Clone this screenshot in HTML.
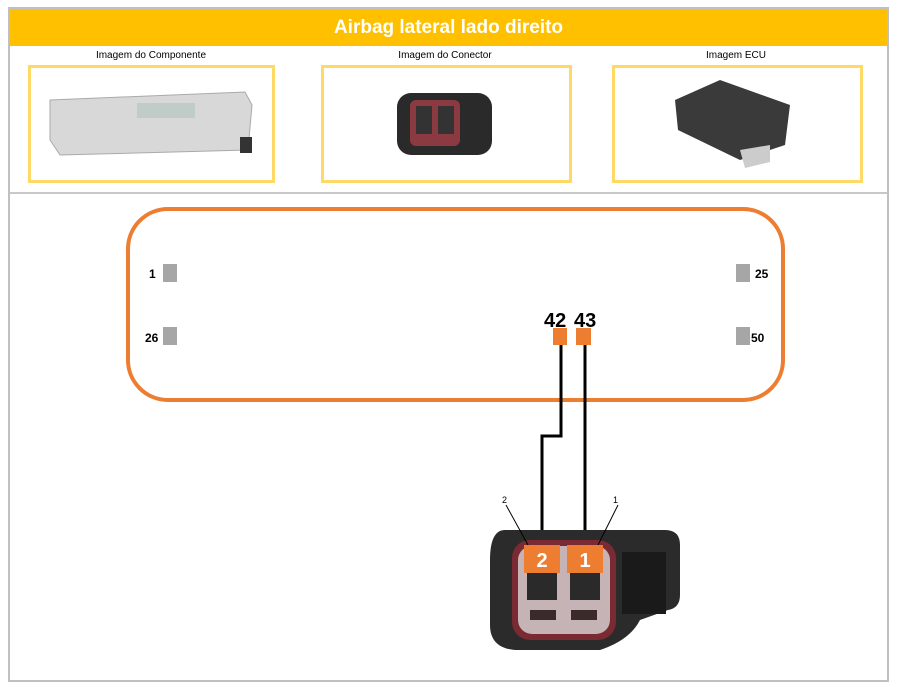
<!DOCTYPE html>
<html><head><style>
body{margin:0;background:#fff;font-family:"Liberation Sans",sans-serif;}
.wrap{position:absolute;left:8px;top:7px;width:877px;height:671px;border:2px solid #c0c0c0;}
.hdr{position:absolute;left:10px;top:9px;width:877px;height:37px;background:#FFC000;color:#fff;font-weight:bold;font-size:19px;text-align:center;line-height:37px;}
.cap{position:absolute;top:50px;font-size:10px;color:#000;text-align:center;width:250px;}
.box{position:absolute;top:65px;height:112px;border:3px solid #FFD966;background:#fff;}
.sep{position:absolute;left:10px;top:192px;width:877px;height:2px;background:#c8c8c8;}
</style></head><body>
<div class="wrap"></div>
<div class="hdr">Airbag lateral lado direito</div>
<div class="cap" style="left:26px">Imagem do Componente</div>
<div class="cap" style="left:320px">Imagem do Conector</div>
<div class="cap" style="left:611px">Imagem ECU</div>
<div class="box" style="left:28px;width:241px"></div>
<div class="box" style="left:321px;width:245px"></div>
<div class="box" style="left:612px;width:245px"></div>
<div class="sep"></div>
<svg width="897" height="687" style="position:absolute;left:0;top:0">
<!-- airbag -->
<path d="M50 100 L245 92 L252 105 L248 150 L60 155 L50 140 Z" fill="#d8d8d8" stroke="#aaa"/>
<rect x="137" y="103" width="58" height="15" fill="#c0ccc8"/>
<rect x="240" y="137" width="12" height="16" fill="#333"/>
<!-- small connector -->
<rect x="397" y="93" width="95" height="62" rx="14" fill="#2a2a2a"/>
<rect x="410" y="100" width="50" height="46" rx="6" fill="#8a3a40"/>
<rect x="416" y="106" width="16" height="28" fill="#333"/><rect x="438" y="106" width="16" height="28" fill="#333"/>
<!-- ECU -->
<path d="M675 100 L720 80 L790 105 L785 145 L740 160 L678 130 Z" fill="#3a3a3a"/>
<path d="M740 150 L770 145 L770 162 L745 168 Z" fill="#ccc"/>
<!-- ECU outline -->
<rect x="128" y="209" width="655" height="191" rx="40" fill="none" stroke="#ED7D31" stroke-width="4"/>
<rect x="163" y="264" width="14" height="18" fill="#a6a6a6"/>
<rect x="163" y="327" width="14" height="18" fill="#a6a6a6"/>
<rect x="736" y="264" width="14" height="18" fill="#a6a6a6"/>
<rect x="736" y="327" width="14" height="18" fill="#a6a6a6"/>
<g font-weight="bold" font-size="12" font-family="Liberation Sans">
<text x="149" y="278">1</text><text x="145" y="342">26</text>
<text x="755" y="278">25</text><text x="751" y="342">50</text>
</g>
<g font-weight="bold" font-size="20" font-family="Liberation Sans">
<text x="544" y="327">42</text><text x="574" y="327">43</text>
</g>
<rect x="553" y="328" width="14" height="17" fill="#ED7D31"/>
<rect x="576" y="328" width="15" height="17" fill="#ED7D31"/>
<polyline points="561,345 561,436 542,436 542,548" fill="none" stroke="#000" stroke-width="3"/>
<line x1="585" y1="345" x2="585" y2="548" stroke="#000" stroke-width="3"/>
<!-- big connector -->
<path d="M505 530 Q490 530 490 560 L490 625 Q490 648 515 650 L600 650 Q630 640 640 620 L668 610 Q680 608 680 595 L680 545 Q680 530 665 530 Z" fill="#2b2b2b"/>
<rect x="512" y="540" width="104" height="100" rx="18" fill="#7a2a33"/>
<rect x="518" y="546" width="92" height="88" rx="14" fill="#c6b3b5"/>
<rect x="527" y="572" width="30" height="28" fill="#2a2a2a"/>
<rect x="570" y="572" width="30" height="28" fill="#2a2a2a"/>
<rect x="530" y="610" width="26" height="10" fill="#3a2a2a"/>
<rect x="571" y="610" width="26" height="10" fill="#3a2a2a"/>
<rect x="622" y="552" width="44" height="62" fill="#1a1a1a"/>
<line x1="506" y1="505" x2="528" y2="545" stroke="#000" stroke-width="1"/>
<line x1="618" y1="505" x2="598" y2="545" stroke="#000" stroke-width="1"/>
<text x="502" y="503" font-size="9" font-family="Liberation Sans">2</text>
<text x="613" y="503" font-size="9" font-family="Liberation Sans">1</text>
<rect x="524" y="545" width="36" height="28" fill="#ED7D31"/>
<rect x="567" y="545" width="36" height="28" fill="#ED7D31"/>
<g fill="#fff" font-weight="bold" font-size="20" font-family="Liberation Sans" text-anchor="middle">
<text x="542" y="567">2</text><text x="585" y="567">1</text>
</g>
</svg>
</body></html>
